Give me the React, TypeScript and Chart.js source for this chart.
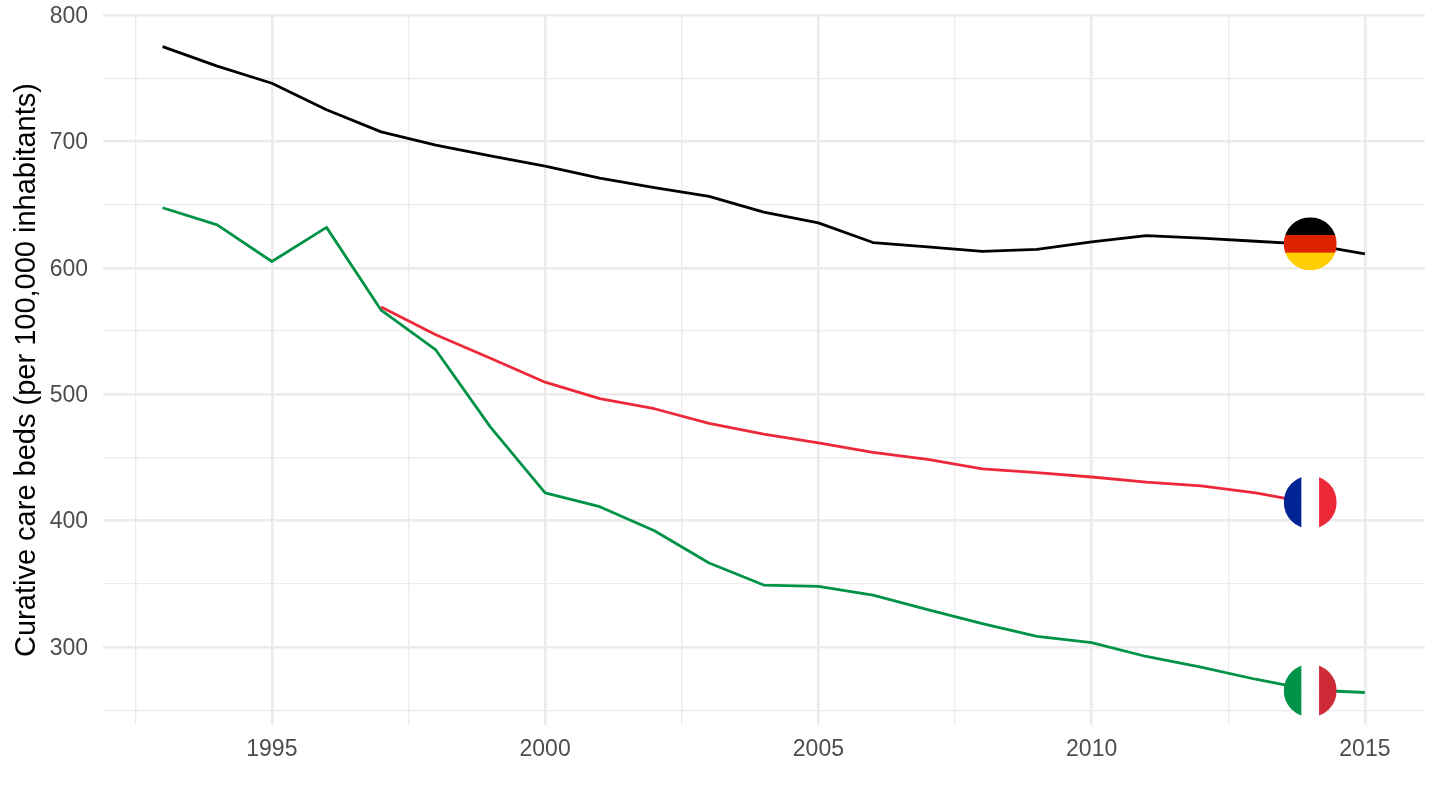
import React, { useEffect, useRef } from "react";
import { Chart, registerables } from "chart.js";

Chart.register(...registerables);

const germanyYears = [1993,1994,1995,1996,1997,1998,1999,2000,2001,2002,2003,2004,2005,2006,2007,2008,2009,2010,2011,2012,2013,2014,2015];
const germanyValues = [775,759.5,746,725,707.5,697,688.5,680.5,671,663.5,656.5,644,635.5,620,616.5,613,614.5,620.5,625.5,623.5,621,618.5,611];
const franceYears = [1997,1998,1999,2000,2001,2002,2003,2004,2005,2006,2007,2008,2009,2010,2011,2012,2013,2014];
const franceValues = [569,547,528.5,509.5,496.5,488.5,477,468.5,461.5,454,448.5,441,438,434.5,430.5,427.5,422,414];
const italyYears = germanyYears;
const italyValues = [647.5,634,605,632,566.5,535,474,422,411,392,366.5,349,348,341,329.5,318.5,308.5,303.5,292.5,284,274.5,266,264];

const xTickValues = [1992.5,1995,1997.5,2000,2002.5,2005,2007.5,2010,2012.5,2015];
const yTickValues = [250,300,350,400,450,500,550,600,650,700,750,800];
const yAxisTitle = "Curative care beds (per 100,000 inhabitants)";

const flags = [
  { year: 2014, value: 619, stripes: ["#000000", "#DD2200", "#FFCE00"], horizontal: true },
  { year: 2014, value: 414.5, stripes: ["#002395", "#FFFFFF", "#ED2939"], horizontal: false },
  { year: 2014, value: 265.5, stripes: ["#009246", "#FFFFFF", "#CE2B37"], horizontal: false },
];

const toPoints = (years: number[], values: number[]) => years.map((x, i) => ({ x, y: values[i] }));

const flagPlugin = {
  id: "flagPlugin",
  afterDatasetsDraw(chart: any) {
    const { ctx, scales } = chart;
    const r = 26.5;
    for (const f of flags) {
      const cx = scales.x.getPixelForValue(f.year);
      const cy = scales.y.getPixelForValue(f.value);
      ctx.save();
      ctx.beginPath();
      ctx.arc(cx, cy, r, 0, Math.PI * 2);
      ctx.clip();
      const band = (2 * r) / 3;
      f.stripes.forEach((c: string, i: number) => {
        ctx.fillStyle = c;
        if (f.horizontal) ctx.fillRect(cx - r, cy - r + band * i, 2 * r, band + (i < 2 ? 0.5 : 0));
        else ctx.fillRect(cx - r + band * i, cy - r, band + (i < 2 ? 0.5 : 0), 2 * r);
      });
      ctx.restore();
    }
  },
};

const zeroPadding = (s: any) => {
  s.paddingTop = 0;
  s.paddingBottom = 0;
  s.paddingLeft = 0;
  s.paddingRight = 0;
};

export default function App() {
  const ref = useRef<HTMLCanvasElement>(null);
  useEffect(() => {
    if (!ref.current) return;
    const line = (label: string, data: any[], color: string) => ({
      label, data, borderColor: color, backgroundColor: color, borderWidth: 2.8,
      pointRadius: 0, tension: 0, fill: false, borderJoinStyle: "round" as const,
    });
    const chart = new Chart(ref.current, {
      type: "line",
      data: {
        datasets: [
          line("Germany", toPoints(germanyYears, germanyValues), "#000000"),
          line("France", toPoints(franceYears, franceValues), "#ED2939"),
          line("Italy", toPoints(italyYears, italyValues), "#009246"),
        ],
      },
      plugins: [flagPlugin],
      options: {
        animation: false,
        responsive: false,
        devicePixelRatio: 1,
        layout: { padding: { top: 15, right: 15, left: 0, bottom: 0 } },
        plugins: { legend: { display: false }, tooltip: { enabled: false } },
        scales: {
          x: {
            type: "linear",
            min: 1991.91,
            max: 2016.1,
            afterBuildTicks: (s: any) => { s.ticks = xTickValues.map((value) => ({ value })); },
            afterFit: (s: any) => { s.height = 85; zeroPadding(s); },
            grid: {
              drawTicks: false,
              color: "#EBEBEB",
              lineWidth: (c: any) => (c.tick && c.tick.value % 5 === 0 ? 2.6 : 1.3),
            },
            border: { display: false },
            ticks: {
              autoSkip: false,
              maxRotation: 0,
              padding: 11,
              color: "#4D4D4D",
              font: { family: "Liberation Sans", size: 23 },
              callback: (v: any) => (Number(v) % 5 === 0 ? String(v) : ""),
            },
          },
          y: {
            type: "linear",
            min: 238.3,
            max: 800,
            afterBuildTicks: (s: any) => { s.ticks = yTickValues.map((value) => ({ value })); },
            afterFit: (s: any) => { s.width = 103; zeroPadding(s); },
            grid: {
              drawTicks: false,
              color: "#EBEBEB",
              lineWidth: (c: any) => (c.tick && c.tick.value % 100 === 0 ? 2.6 : 1.3),
            },
            border: { display: false },
            title: {
              display: true,
              text: yAxisTitle,
              color: "#000000",
              font: { family: "Liberation Sans", size: 29 },
              padding: { top: 10, bottom: 0 },
            },
            ticks: {
              autoSkip: false,
              padding: 15,
              labelOffset: 1.5,
              color: "#4D4D4D",
              font: { family: "Liberation Sans", size: 23 },
              callback: (v: any) => (Number(v) % 100 === 0 ? String(v) : ""),
            },
          },
        },
      },
    });
    return () => chart.destroy();
  }, []);
  return (
    <div style={{ position: "absolute", left: 0, top: 0, width: 1440, height: 810, background: "#fff" }}>
      <canvas ref={ref} width={1440} height={810} style={{ display: "block" }} />
    </div>
  );
}
